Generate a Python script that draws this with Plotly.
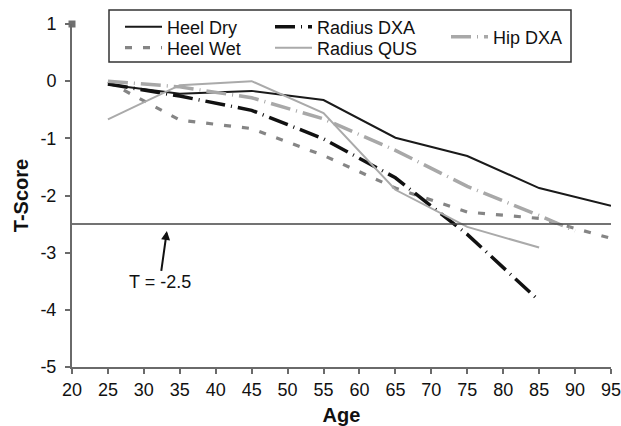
import plotly.graph_objects as go

# ---- data ----
ages = [25, 35, 45, 55, 65, 75, 85, 95]
heel_dry = [-0.06, -0.22, -0.17, -0.33, -0.99, -1.31, -1.87, -2.18]
heel_wet = [-0.01, -0.68, -0.83, -1.30, -1.87, -2.29, -2.40, -2.75]
radius_ages = [25, 35, 45, 55, 65, 75, 85]
radius_dxa = [-0.05, -0.26, -0.51, -1.01, -1.69, -2.68, -3.84]
radius_qus = [-0.67, -0.07, 0.00, -0.56, -1.90, -2.55, -2.91]
hip_ages = [25, 35, 45, 55, 65, 75, 85, 90]
hip_dxa = [0.00, -0.10, -0.29, -0.66, -1.21, -1.84, -2.35, -2.62]
threshold = -2.5
x_ticks = list(range(20, 100, 5))
y_ticks = [-5, -4, -3, -2, -1, 0, 1]
y_tick_text = ["-5", "-4", "-3", "-2", "-1", "0", "1"]

W, H = 621, 426
ML, MR, MT, MB = 72, 10, 24, 59
PW, PH = W - ML - MR, H - MT - MB


def px(x):  # px -> paper x
    return (x - ML) / PW


def py(y):  # px -> paper y
    return (H - MB - y) / PH


FONT = "Liberation Sans, Arial, sans-serif"

fig = go.Figure()

fig.add_trace(go.Scatter(x=ages, y=heel_dry, mode="lines", name="Heel Dry",
                         line=dict(color="#1a1a1a", width=2), legend="legend"))
fig.add_trace(go.Scatter(x=ages, y=heel_wet, mode="lines", name="Heel Wet",
                         line=dict(color="#858585", width=3.2, dash="7px,11px"), legend="legend2"))
fig.add_trace(go.Scatter(x=radius_ages, y=radius_dxa, mode="lines", name="Radius DXA",
                         line=dict(color="#111111", width=3.5, dash="20px,6px,1px,6px"), legend="legend3"))
fig.add_trace(go.Scatter(x=radius_ages, y=radius_qus, mode="lines", name="Radius QUS",
                         line=dict(color="#aaaaaa", width=2), legend="legend4"))
fig.add_trace(go.Scatter(x=hip_ages, y=hip_dxa, mode="lines", name="Hip DXA",
                         line=dict(color="#a8a8a8", width=3.5, dash="20px,6px,1px,6px"), legend="legend5"))
# marker at axis top
fig.add_trace(go.Scatter(x=[20], y=[1], mode="markers", showlegend=False,
                         marker=dict(symbol="square", size=7, color="#707070"),
                         cliponaxis=False, hoverinfo="skip"))

fig.add_shape(type="line", xref="x", yref="y", x0=20, x1=95, y0=threshold, y1=threshold,
              line=dict(color="#444444", width=1.5))

fig.add_annotation(x=33.2, y=-2.62, ax=32.2, ay=-3.52, axref="x", ayref="y",
                   xref="x", yref="y", text="T = -2.5", showarrow=True,
                   arrowhead=2, arrowsize=0.9, arrowwidth=2, arrowcolor="#111111",
                   font=dict(family=FONT, size=18, color="#111111"))

# legend box
fig.add_shape(type="rect", xref="paper", yref="paper",
              x0=px(109), x1=px(571), y0=py(62), y1=py(10),
              line=dict(color="#333333", width=1.5), fillcolor="rgba(0,0,0,0)")

leg_common = dict(bgcolor="rgba(0,0,0,0)", borderwidth=0, orientation="v",
                  font=dict(family=FONT, size=18, color="#111111"),
                  tracegroupgap=0, itemwidth=37, xanchor="left", yanchor="middle")

fig.update_layout(
    width=W, height=H,
    margin=dict(l=ML, r=MR, t=MT, b=MB, autoexpand=False),
    paper_bgcolor="white", plot_bgcolor="white",
    font=dict(family=FONT, size=18, color="#111111"),
    legend=dict(x=px(120), y=py(27), **leg_common),
    legend2=dict(x=px(120), y=py(48), **leg_common),
    legend3=dict(x=px(270), y=py(27), **leg_common),
    legend4=dict(x=px(270), y=py(48), **leg_common),
    legend5=dict(x=px(446), y=py(37), **leg_common),
    xaxis=dict(range=[20, 95], tickvals=x_ticks, showgrid=False, zeroline=False,
               showline=True, linecolor="#6a6a6a", linewidth=2,
               ticks="outside", ticklen=5, tickwidth=1.5, tickcolor="#6a6a6a",
               ticklabelstandoff=0, ticklabeloverflow="allow",
               tickfont=dict(family=FONT, size=18, color="#111111"),
               title=dict(text="<b>Age</b>", font=dict(family=FONT, size=20, color="#111111"),
                          standoff=9)),
    yaxis=dict(range=[-5, 1], tickvals=y_ticks, ticktext=y_tick_text,
               showgrid=False, zeroline=False,
               showline=True, linecolor="#6a6a6a", linewidth=2,
               ticks="outside", ticklen=5, tickwidth=1.5, tickcolor="#6a6a6a",
               ticklabelstandoff=5,
               tickfont=dict(family=FONT, size=18, color="#111111"),
               title=dict(text="<b>T-Score</b>", font=dict(family=FONT, size=20, color="#111111"),
                          standoff=6)),
)

fig.write_html(
    "out.html",
    config={"displayModeBar": False},
    post_script="document.body.style.margin='0';"
                "document.documentElement.style.overflow='hidden';",
)
